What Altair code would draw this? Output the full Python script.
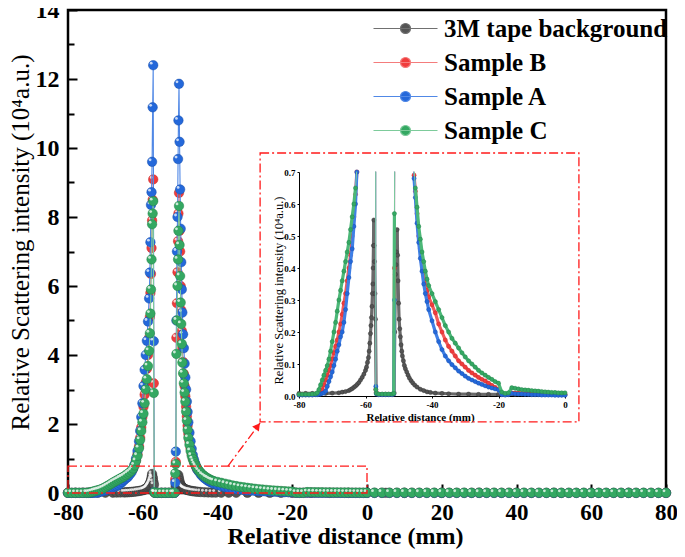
import altair as alt
import pandas as pd

# ---------------- data ----------------
SERIES = ["3M tape background", "Sample B", "Sample A", "Sample C"]

X_SAMPLE = [
    -80, -79, -78, -77, -76, -75, -74.5, -74, -73.5, -73, -72.5, -72, -71.5, -71, -70.5,
    -70, -69.5, -69, -68.5, -68, -67.5, -67, -66.5, -66, -65.5, -65, -64.5, -64, -63.5, -63,
    -62.6, -62.2, -61.8, -61.4, -61.0, -60.7, -60.4, -60.1, -59.8, -59.5, -59.2, -58.9,
    -58.6, -58.3, -58.1, -57.95, -57.8, -57.65, -57.5, -57.35, -57.2, -57.05, -56.9, -56.7,
    -56, -55, -54, -53, -52, -51.5, -51.3, -51.15, -51.0, -50.85, -50.7, -50.55, -50.45, -50.3,
    -50.15, -50.0, -49.85, -49.7, -49.55, -49.4, -49.2, -49.0, -48.8, -48.6, -48.4, -48.2,
    -48.0, -47.8, -47.5, -47.2, -46.9, -46.6, -46.3, -46.0, -45.7, -45.4,
    -45, -44.5, -44, -43.5, -43, -42.5, -42, -41.5, -41,
    -40, -39, -38, -37, -36, -35, -34, -33, -32, -31, -30, -29, -28, -27, -26, -25, -24,
    -23, -22, -21, -20,
    -19, -18, -17, -16, -15, -14, -13, -12, -11, -10, -9, -8, -7, -6, -5, -4, -3, -2, -1, 0,
    2, 4, 6, 8, 10, 12, 14, 16, 18, 20, 22, 24, 26, 28, 30, 32, 34, 36, 38, 40,
    42, 44, 46, 48, 50, 52, 54, 56, 58, 60, 62, 64, 66, 68, 70, 72, 74, 76, 78, 80,
]

Y_SAMPLE_C = [
    0.005, 0.005, 0.005, 0.005, 0.006, 0.007, 0.01, 0.02, 0.035, 0.05, 0.065, 0.08, 0.095, 0.115, 0.14,
    0.17, 0.2, 0.23, 0.265, 0.3, 0.33, 0.36, 0.39, 0.42, 0.45, 0.48, 0.52, 0.56, 0.6, 0.65,
    0.71, 0.8, 0.93, 1.08, 1.3, 1.54, 1.8, 2.05, 2.3, 2.6, 3.0, 3.3,
    3.68, 4.12, 4.63, 5.2, 5.9, 6.77, 7.79, 8.1, 8.46, 2.9, 0.02, 0.008,
    0.006, 0.006, 0.006, 0.006, 0.006, 0.008, 0.57, 0.84, 4.03, 5.0, 6.0, 6.77, 7.6, 8.32,
    7.19, 6.29, 5.52, 4.9, 4.32, 3.78, 3.47, 3.18, 2.91, 2.65, 2.36, 2.1,
    1.83, 1.6, 1.4, 1.22, 1.08, 0.98, 0.9, 0.83, 0.77, 0.71,
    0.65, 0.59, 0.53, 0.49, 0.45, 0.42, 0.39, 0.365, 0.345,
    0.32, 0.295, 0.27, 0.245, 0.22, 0.2, 0.18, 0.165, 0.15, 0.135, 0.122, 0.11, 0.1, 0.09, 0.08, 0.072, 0.065,
    0.058, 0.052, 0.045, 0.04,
    0.012, 0.008, 0.01, 0.026, 0.024, 0.022, 0.02, 0.019, 0.018, 0.017, 0.016, 0.015, 0.014, 0.013, 0.012,
    0.011, 0.011, 0.01, 0.01, 0.01,
    0.01, 0.01, 0.009, 0.009, 0.009, 0.009, 0.008, 0.008, 0.008, 0.008, 0.008, 0.008, 0.008, 0.007, 0.007,
    0.007, 0.007, 0.007, 0.007, 0.007, 0.007, 0.007, 0.007, 0.006, 0.006, 0.006, 0.006, 0.006, 0.006, 0.006,
    0.006, 0.006, 0.006, 0.006, 0.006, 0.006, 0.006, 0.005, 0.005, 0.005,
]

Y_SAMPLE_B = [
    0.004, 0.004, 0.004, 0.004, 0.004, 0.005, 0.006, 0.008, 0.012, 0.02, 0.035, 0.05, 0.065, 0.08, 0.095,
    0.115, 0.135, 0.155, 0.175, 0.2, 0.225, 0.255, 0.29, 0.32, 0.36, 0.4, 0.44, 0.5, 0.56, 0.63,
    0.7, 0.8, 0.95, 1.12, 1.35, 1.6, 1.9, 2.2, 2.5, 2.85, 3.2, 3.6,
    4.0, 4.5, 5.1, 5.8, 6.35, 7.1, 7.9, 8.5, 9.09, 3.18, 0.02, 0.01,
    0.005, 0.005, 0.005, 0.005, 0.005, 0.007, 0.4, 0.9, 4.5, 5.5, 6.4, 7.3, 8.1, 8.7,
    7.6, 7.0, 6.0, 5.3, 4.7, 4.2, 3.8, 3.45, 3.1, 2.8, 2.5, 2.22,
    1.95, 1.72, 1.5, 1.3, 1.13, 1.0, 0.9, 0.82, 0.75, 0.69,
    0.64, 0.57, 0.5, 0.46, 0.42, 0.385, 0.355, 0.33, 0.31,
    0.285, 0.26, 0.225, 0.2, 0.175, 0.155, 0.14, 0.125, 0.11, 0.1, 0.09, 0.08, 0.072, 0.065, 0.058, 0.052, 0.047,
    0.04, 0.033, 0.027, 0.021,
    0.006, 0.004, 0.006, 0.01, 0.009, 0.009, 0.008, 0.008, 0.007, 0.007, 0.006, 0.006, 0.006, 0.005, 0.005,
    0.005, 0.005, 0.004, 0.004, 0.004,
    0.004, 0.004, 0.004, 0.004, 0.004, 0.004, 0.004, 0.004, 0.004, 0.004, 0.004, 0.004, 0.004, 0.004, 0.004,
    0.004, 0.004, 0.004, 0.004, 0.004, 0.003, 0.003, 0.003, 0.003, 0.003, 0.003, 0.003, 0.003, 0.003, 0.003,
    0.003, 0.003, 0.003, 0.003, 0.003, 0.003, 0.003, 0.003, 0.003, 0.003,
]

Y_SAMPLE_A = [
    0.003, 0.003, 0.003, 0.003, 0.003, 0.004, 0.004, 0.005, 0.006, 0.008, 0.01, 0.015, 0.03, 0.045, 0.06,
    0.075, 0.095, 0.115, 0.14, 0.16, 0.185, 0.2, 0.23, 0.27, 0.32, 0.37, 0.42, 0.46, 0.53, 0.6,
    0.7, 0.82, 1.0, 1.22, 1.5, 1.8, 2.2, 2.6, 3.1, 3.57, 4.0, 4.41,
    4.97, 5.64, 6.39, 7.27, 8.35, 8.72, 9.6, 11.18, 12.4, 4.4, 0.03, 0.006,
    0.004, 0.004, 0.004, 0.004, 0.004, 0.006, 0.3, 1.2, 5.0, 7.0, 8.0, 9.68, 10.8, 11.86,
    10.18, 8.8, 7.66, 6.69, 5.9, 5.23, 4.6, 4.2, 3.75, 3.35, 3.0, 2.65,
    2.35, 2.05, 1.75, 1.5, 1.28, 1.1, 0.97, 0.86, 0.76, 0.68,
    0.62, 0.54, 0.48, 0.43, 0.39, 0.35, 0.32, 0.295, 0.27,
    0.235, 0.2, 0.17, 0.145, 0.125, 0.11, 0.098, 0.088, 0.078, 0.07, 0.062, 0.055, 0.05, 0.045, 0.04, 0.036,
    0.032, 0.028, 0.025, 0.022, 0.019,
    0.004, 0.003, 0.004, 0.008, 0.007, 0.006, 0.006, 0.005, 0.005, 0.004, 0.004, 0.004, 0.003, 0.003, 0.003,
    0.003, 0.002, 0.002, 0.002, 0.002,
    0.002, 0.002, 0.002, 0.002, 0.002, 0.002, 0.002, 0.002, 0.002, 0.002, 0.002, 0.002, 0.002, 0.002, 0.002,
    0.002, 0.002, 0.002, 0.002, 0.002, 0.002, 0.002, 0.002, 0.002, 0.002, 0.002, 0.002, 0.002, 0.002, 0.002,
    0.002, 0.002, 0.002, 0.002, 0.002, 0.002, 0.002, 0.002, 0.002, 0.002,
]

X_BACKGROUND = [
    -80, -78, -76, -74, -72, -70, -68, -67, -66, -65, -64.5, -64, -63.5, -63, -62.5, -62, -61.5, -61,
    -60.5, -60, -59.7, -59.4, -59.1, -58.9, -58.7, -58.5, -58.35, -58.2, -58.05, -57.9, -57.8, -57.7,
    -57.6, -57.5, -57.4, -57.3, -57.15, -57.0, -56.8, -56, -55, -54, -53, -52,
    -51.4, -51.2, -51.0, -50.85, -50.7, -50.5, -50.35, -50.2, -50.05, -49.9, -49.7, -49.5, -49.3,
    -49.1, -48.9, -48.6, -48.3, -48.0, -47.6, -47.2, -46.8, -46.3, -45.8, -45.2, -44.5, -43.5,
    -42.5, -41.5, -40.5, -39, -37, -35, -32, -29, -26, -23, -20, -15, -10, -5, 0,
    5, 10, 20, 30, 40, 50, 60, 70, 80,
]
Y_BACKGROUND = [
    0.008, 0.008, 0.008, 0.008, 0.008, 0.009, 0.01, 0.012, 0.014, 0.017, 0.02, 0.023, 0.027, 0.031, 0.036,
    0.042, 0.05, 0.058, 0.068, 0.08, 0.09, 0.105, 0.12, 0.14, 0.165, 0.195, 0.22, 0.245, 0.28, 0.32, 0.35,
    0.4, 0.47, 0.55, 0.47, 0.42, 0.32, 0.24, 0.01, 0.005, 0.005, 0.005, 0.005, 0.005,
    0.01, 0.2, 0.38, 0.41, 0.45, 0.52, 0.44, 0.36, 0.29, 0.24, 0.21, 0.185, 0.16,
    0.14, 0.125, 0.11, 0.095, 0.085, 0.075, 0.065, 0.056, 0.048, 0.041, 0.034, 0.028, 0.021,
    0.017, 0.013, 0.011, 0.009, 0.008, 0.007, 0.006, 0.006, 0.005, 0.005, 0.005, 0.005, 0.005, 0.005, 0.005,
    0.005, 0.005, 0.005, 0.005, 0.005, 0.005, 0.005, 0.005, 0.005,
]

# axis tick values
X_TICKS = [-80, -60, -40, -20, 0, 20, 40, 60, 80]
Y_TICKS = [0, 1, 2, 3, 4, 5, 6, 7, 8, 9, 10, 11, 12, 13, 14]
XI_TICKS = [-80, -60, -40, -20, 0]
YI_TICKS = [0, 0.1, 0.2, 0.3, 0.4, 0.5, 0.6, 0.7]

# annotation geometry in main-plot data units
ZOOM_BOX = {"x0": [-80], "x1": [0], "y0": [0], "y1": [0.78]}
INSET_BOX = {"x0": [-28.6], "x1": [56.7], "y0": [2.06], "y1": [9.855]}
ARROW = {"x0": [-37.2], "y0": [0.78], "x1": [-28.6], "y1": [2.03]}

assert len(X_SAMPLE) == len(Y_SAMPLE_A) == len(Y_SAMPLE_B) == len(Y_SAMPLE_C)
assert len(X_BACKGROUND) == len(Y_BACKGROUND)

rows = []
for name, xs, ys in [
    ("3M tape background", X_BACKGROUND, Y_BACKGROUND),
    ("Sample B", X_SAMPLE, Y_SAMPLE_B),
    ("Sample A", X_SAMPLE, Y_SAMPLE_A),
    ("Sample C", X_SAMPLE, Y_SAMPLE_C),
]:
    for xv, yv in zip(xs, ys):
        rows.append({"series": name, "x": xv, "y": yv})
df = pd.DataFrame(rows)

# ---------------- styles ----------------
FONT = "Liberation Serif"
FILL_COLORS = ["#545454", "#f03c3c", "#2468da", "#34a862"]
LINE_COLORS = ["#707070", "#f47c7c", "#5088e6", "#7dcb9b"]
EDGE_COLORS = ["#333333", "#c02828", "#184ea8", "#237f48"]
BAND_COLORS = ["#6a6a6a", "#f25a5a", "#3f7fe6", "#4cb878"]
RED = "#ff1a1a"
DASHDOT = [9, 3, 2, 3]

fill_scale = alt.Scale(domain=SERIES, range=FILL_COLORS)
stroke_scale = alt.Scale(domain=SERIES, range=LINE_COLORS)

LEGEND_PATH = "M-3.2,0L3.2,0M-0.5,0A0.5,0.5,0,1,0,0.5,0A0.5,0.5,0,1,0,-0.5,0Z"
legend = alt.Legend(
    title=None, orient="none", legendX=325, legendY=6, padding=0,
    symbolType=LEGEND_PATH, symbolSize=400, symbolStrokeWidth=1.2,
    labelFont=FONT, labelFontSize=25, labelFontWeight="bold", labelColor="black",
    labelOffset=26, rowPadding=8, labelLimit=400,
)

x_main = alt.Scale(domain=[-80, 80], nice=False, zero=False)
y_main = alt.Scale(domain=[0, 14], nice=False, zero=False)

x_axis = alt.Axis(
    values=X_TICKS, labelExpr="'' + datum.value", domain=False, grid=False, labelFlush=False,
    offset=-9, tickSize=9, tickWidth=2, tickColor="black",
    labelFont=FONT, labelFontSize=23, labelFontWeight="bold", labelColor="black", labelPadding=8,
    title="Relative distance (mm)", titleFont=FONT, titleFontSize=24, titleFontWeight="bold",
    titleColor="black", titleX=277, titleY=59, titleBaseline="alphabetic", titleLimit=900,
)
y_axis = alt.Axis(
    values=Y_TICKS, labelExpr="datum.value % 2 === 0 ? datum.label : ''", domain=False, grid=False,
    offset=-9, tickSize=9, tickWidth=2, tickColor="black",
    tickDash={"condition": {"test": "datum.value % 2 === 1", "value": [0, 3, 6, 30]}, "value": [30, 0]},
    labelFont=FONT, labelFontSize=24, labelFontWeight="bold", labelColor="black", labelPadding=9,
    title="Relative Scattering intensity (10⁴a.u.)", titleFont=FONT, titleFontSize=25,
    titleFontWeight="normal", titleColor="black", titleX=-49, titleY=232, titleBaseline="alphabetic",
    titleLimit=900,
)

xi_scale = alt.Scale(domain=[-80, 0], range=[231, 497], nice=False, zero=False)
yi_scale = alt.Scale(domain=[0, 0.7], range=[386, 162], nice=False, zero=False)

xi_axis = alt.Axis(
    orient="bottom", offset=-97, values=XI_TICKS, labelExpr="'' + datum.value", grid=False,
    labelFlush=False,
    domainColor="black", domainWidth=1, tickColor="black", tickSize=2, tickWidth=1,
    labelFont=FONT, labelFontSize=9, labelFontWeight="bold", labelColor="black", labelPadding=2,
    title="Relative distance (mm)", titleFont=FONT, titleFontSize=11, titleFontWeight="bold",
    titleColor="black", titleX=352, titleY=24, titleBaseline="alphabetic", titleLimit=400,
)
yi_axis = alt.Axis(
    orient="left", offset=-231, values=YI_TICKS, format=".1f", grid=False,
    domainColor="black", domainWidth=1, tickColor="black", tickSize=2, tickWidth=1,
    labelFont=FONT, labelFontSize=9, labelFontWeight="bold", labelColor="black", labelPadding=2,
    title="Relative Scattering intensity (10⁴a.u.)", titleFont=FONT, titleFontSize=12.5,
    titleFontWeight="normal", titleColor="black", titleX=-17, titleY=280, titleBaseline="alphabetic",
    titleLimit=400,
)

X_M = alt.X("x:Q", scale=x_main, axis=x_axis)
Y_M = alt.Y("y:Q", scale=y_main, axis=y_axis)

# ---------------- main plot ----------------
main_layers = []
for s, edge in zip(SERIES, EDGE_COLORS):
    base = alt.Chart().transform_filter(alt.datum.series == s)
    main_layers.append(
        base.mark_line(strokeWidth=1.1).encode(
            x=X_M, y=Y_M, stroke=alt.Stroke("series:N", scale=stroke_scale, legend=legend)
        )
    )
    main_layers.append(
        base.mark_point(filled=True, size=90, stroke=edge, strokeWidth=0.5, opacity=1).encode(
            x=X_M, y=Y_M, fill=alt.Fill("series:N", scale=fill_scale, legend=legend)
        )
    )
    main_layers.append(
        base.mark_point(filled=True, size=8, fill="white", opacity=0.75, xOffset=-2, yOffset=-2).encode(
            x=X_M, y=Y_M
        )
    )

zoom_box = alt.Chart(pd.DataFrame(ZOOM_BOX)).mark_rect(
    fill="white", fillOpacity=0, stroke=RED, strokeWidth=1.3, strokeDash=DASHDOT
).encode(x=alt.X("x0:Q", scale=x_main, axis=x_axis), x2="x1:Q",
         y=alt.Y("y0:Q", scale=y_main, axis=y_axis), y2="y1:Q")
inset_box = alt.Chart(pd.DataFrame(INSET_BOX)).mark_rect(
    fill="white", fillOpacity=0, stroke=RED, strokeWidth=1.3, strokeDash=DASHDOT
).encode(x=alt.X("x0:Q", scale=x_main, axis=x_axis), x2="x1:Q",
         y=alt.Y("y0:Q", scale=y_main, axis=y_axis), y2="y1:Q")
arrow_line = alt.Chart(pd.DataFrame(ARROW)).mark_rule(
    color=RED, strokeWidth=1.3, strokeDash=DASHDOT
).encode(x=alt.X("x0:Q", scale=x_main, axis=x_axis), x2="x1:Q",
         y=alt.Y("y0:Q", scale=y_main, axis=y_axis), y2="y1:Q")
arrow_head = alt.Chart(pd.DataFrame(ARROW)).mark_point(
    shape="triangle-up", filled=True, fill=RED, opacity=1, size=70, angle=37, xOffset=-2.4, yOffset=3.2
).encode(x=alt.X("x1:Q", scale=x_main, axis=x_axis), y=alt.Y("y1:Q", scale=y_main, axis=y_axis))

main = alt.layer(*main_layers, zoom_box, inset_box, arrow_line, arrow_head)

# ---------------- inset ----------------
XI = alt.X("x:Q", scale=xi_scale, axis=xi_axis)
YI = alt.Y("y:Q", scale=yi_scale, axis=yi_axis)
clip_x = "datum.x0 + (datum.x - datum.x0) * (0.7 - datum.y0) / (datum.y - datum.y0)"
crossing = "datum.y > 0.7 || datum.y0 > 0.7"
inset_layers = []
for s, fc, lc, ec, bc in zip(SERIES, FILL_COLORS, LINE_COLORS, EDGE_COLORS, BAND_COLORS):
    base = alt.Chart().transform_filter(alt.datum.series == s)
    thin_color = "#404040" if s == "3M tape background" else lc
    seg = (
        base.transform_window(x0="lag(x)", y0="lag(y)", sort=[alt.SortField("x")])
        .transform_filter("isValid(datum.x0) && datum.x <= 0 && (datum.y <= 0.7 || datum.y0 <= 0.7)")
        .transform_calculate(
            sx0=f"datum.y0 > 0.7 ? {clip_x} : datum.x0",
            sy0="min(datum.y0, 0.7)",
            sx1=f"datum.y > 0.7 ? {clip_x} : datum.x",
            sy1="min(datum.y, 0.7)",
        )
        .mark_rule(strokeCap="round")
        .encode(
            x=alt.X("sx0:Q", scale=xi_scale, axis=xi_axis), x2="sx1:Q",
            y=alt.Y("sy0:Q", scale=yi_scale, axis=yi_axis), y2="sy1:Q",
            color=alt.condition(crossing, alt.value(thin_color), alt.value(bc)),
            strokeWidth=alt.condition(crossing, alt.value(1), alt.value(3.2)),
        )
    )
    pts = (
        base.transform_filter("datum.x <= 0 && datum.y <= 0.7")
        .mark_point(filled=True, size=18, fill=fc, stroke=ec, strokeWidth=0.4, opacity=1)
        .encode(x=XI, y=YI)
    )
    inset_layers += [seg, pts]

inset = alt.layer(*inset_layers)

chart = (
    alt.layer(main, inset, data=df)
    .resolve_scale(x="independent", y="independent")
    .properties(
        width=598, height=483,
        autosize=alt.AutoSizeParams(type="none"),
        padding={"left": 60, "top": 2, "right": 11, "bottom": 56},
    )
    .configure_view(stroke="black", strokeWidth=2.5)
)

chart.save("out.html", embed_options={"renderer": "svg", "actions": False})
